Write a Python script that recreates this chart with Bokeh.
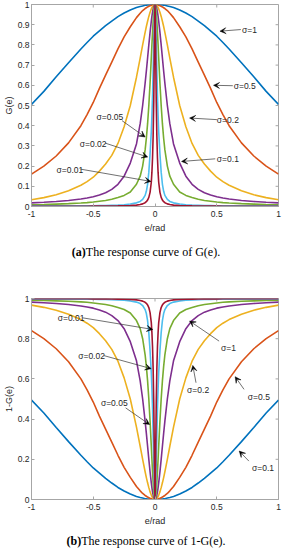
from bokeh.plotting import figure
from bokeh.models import Range1d, FixedTicker, NumeralTickFormatter, Label, Arrow, VeeHead, Div
from bokeh.layouts import column
from bokeh.embed import file_html
from bokeh.resources import INLINE

# ---- data (e >= 0 half; curves are symmetric) ----
E_HALF = [0, 0.003, 0.006, 0.01, 0.015, 0.02, 0.025, 0.03, 0.04, 0.05, 0.06, 0.07, 0.08,
          0.1, 0.12, 0.15, 0.2, 0.25, 0.3, 0.35, 0.4, 0.45, 0.5, 0.55, 0.6, 0.7, 0.8, 0.9, 1.0]

SIGMA_NAMES = ["\u03c3=1", "\u03c3=0.5", "\u03c3=0.2", "\u03c3=0.1", "\u03c3=0.05", "\u03c3=0.02", "\u03c3=0.01"]

G_S1 = [1.0, 1.0, 1.0, 1.0, 1.0, 1.0, 1.0, 0.999, 0.999, 0.998, 0.998, 0.997, 0.996, 0.993, 0.99,
        0.985, 0.973, 0.958, 0.94, 0.918, 0.895, 0.869, 0.843, 0.812, 0.78, 0.712, 0.642, 0.57, 0.505]
G_S05 = [1.0, 1.0, 1.0, 1.0, 0.999, 0.998, 0.997, 0.996, 0.994, 0.991, 0.988, 0.984, 0.98, 0.97, 0.957,
         0.935, 0.89, 0.84, 0.78, 0.715, 0.65, 0.585, 0.515, 0.455, 0.4, 0.315, 0.25, 0.2, 0.16]
G_S02 = [1.0, 1.0, 0.999, 0.998, 0.994, 0.99, 0.985, 0.978, 0.962, 0.941, 0.917, 0.891, 0.862, 0.8, 0.735,
         0.64, 0.5, 0.395, 0.312, 0.253, 0.21, 0.175, 0.145, 0.123, 0.105, 0.078, 0.058, 0.044, 0.033]
G_S01 = [1.0, 0.999, 0.996, 0.99, 0.978, 0.962, 0.941, 0.917, 0.862, 0.8, 0.735, 0.671, 0.61, 0.5, 0.41,
         0.31, 0.215, 0.15, 0.11, 0.085, 0.068, 0.057, 0.048, 0.042, 0.037, 0.03, 0.025, 0.021, 0.018]
G_S005 = [1.0, 0.996, 0.986, 0.962, 0.917, 0.862, 0.8, 0.735, 0.61, 0.5, 0.41, 0.338, 0.28, 0.2, 0.15,
          0.11, 0.072, 0.055, 0.045, 0.036, 0.03, 0.026, 0.022, 0.019, 0.017, 0.014, 0.012, 0.01, 0.009]
G_S002 = [1.0, 0.978, 0.917, 0.82, 0.68, 0.55, 0.45, 0.37, 0.26, 0.17, 0.11, 0.075, 0.055, 0.035, 0.025,
          0.018, 0.012, 0.009, 0.007, 0.006, 0.005, 0.0045, 0.004, 0.0037, 0.0035, 0.0033, 0.0031, 0.003, 0.003]
G_S001 = [1.0, 0.92, 0.74, 0.52, 0.35, 0.24, 0.17, 0.12, 0.07, 0.045, 0.032, 0.024, 0.019, 0.013, 0.01,
          0.007, 0.005, 0.004, 0.003, 0.0025, 0.002, 0.002, 0.0018, 0.0016, 0.0015, 0.0013, 0.0012, 0.0011, 0.001]

SERIES = [G_S1, G_S05, G_S02, G_S01, G_S005, G_S002, G_S001]
COLORS = ["#0072BD", "#D95319", "#EDB120", "#7E2F8E", "#77AC30", "#4DBEEE", "#A2142F"]

X_TICKS = [-1, -0.5, 0, 0.5, 1]
Y_TICKS_A = [0, 0.1, 0.2, 0.3, 0.4, 0.5, 0.6, 0.7, 0.8, 0.9, 1]
Y_TICKS_B = [0, 0.2, 0.4, 0.6, 0.8, 1]

CAPTION_A = ("(a)", "The response curve of G(e).")
CAPTION_B = ("(b)", "The response curve of 1-G(e).")

E_FULL = [-e for e in reversed(E_HALF[1:])] + E_HALF


def mirror(g):
    return list(reversed(g[1:])) + list(g)


FONT = "Liberation Sans"
TXT = "#262626"
BOX = "#A6A6A6"
W = 282
LEFT = 24
RIGHT = 4


def style_axis(ax, ticks, label, label_standoff, title_standoff):
    ax.ticker = FixedTicker(ticks=ticks)
    ax.formatter = NumeralTickFormatter(format="0.[0]")
    ax.axis_line_color = BOX
    ax.major_tick_line_color = BOX
    ax.major_tick_in = 3
    ax.major_tick_out = 0
    ax.minor_tick_line_color = None
    ax.major_label_text_font = FONT
    ax.major_label_text_color = TXT
    ax.major_label_text_font_size = "8.5px"
    ax.major_label_standoff = label_standoff
    ax.axis_label = label
    ax.axis_label_text_font = FONT
    ax.axis_label_text_font_style = "normal"
    ax.axis_label_text_font_size = "9px"
    ax.axis_label_text_color = TXT
    ax.axis_label_standoff = title_standoff


def make_fig(height, top, bottom, yticks, ylabel):
    frame_h = height - top - bottom
    frame_w = W - LEFT - RIGHT
    p = figure(width=W, height=height, x_range=Range1d(-1, 1), y_range=Range1d(0, 1),
               output_backend="svg", toolbar_location=None,
               min_border_left=LEFT, min_border_right=RIGHT,
               min_border_top=top, min_border_bottom=bottom)
    p.xgrid.visible = False
    p.ygrid.visible = False
    p.outline_line_color = BOX
    p.background_fill_color = "white"
    style_axis(p.xaxis[0], X_TICKS, "e/rad", 4, 3)
    style_axis(p.yaxis[0], yticks, ylabel, 2, 1)
    # inward tick marks on the top and right edges of the box
    dx = 3 * 2.0 / frame_w
    dy = 3 * 1.0 / frame_h
    p.segment(x0=X_TICKS, y0=[1] * len(X_TICKS), x1=X_TICKS, y1=[1 - dy] * len(X_TICKS),
              line_color=BOX, line_width=1)
    p.segment(x0=[1] * len(yticks), y0=yticks, x1=[1 - dx] * len(yticks), y1=yticks,
              line_color=BOX, line_width=1)
    return p


def add_label(p, x, y, text):
    p.add_layout(Label(x=x, y=y, text=text, text_font=FONT, text_font_size="8.5px",
                       text_align="left", text_baseline="middle", text_color=TXT))


def add_arrow(p, xs, ys, xe, ye):
    p.add_layout(Arrow(end=VeeHead(size=6, fill_color="black", line_color="black", line_width=0.5),
                       x_start=xs, y_start=ys, x_end=xe, y_end=ye,
                       line_color="#333333", line_width=0.7))


def caption(parts, height):
    return Div(text="<b>%s</b>%s" % parts, width=W, height=height,
               styles={"font-family": "Liberation Serif", "font-size": "12px", "color": "black",
                       "text-align": "center", "line-height": "%dpx" % height,
                       "white-space": "nowrap"})


# ---------------- (a) G(e) ----------------
pa = make_fig(236, 4, 30, Y_TICKS_A, "G(e)")
for g, c in zip(SERIES, COLORS):
    pa.line(E_FULL, mirror(g), line_color=c, line_width=1.6)

# (series index, label x, label y, arrow start x, y, arrow tip x, y)
ANN_A = [
    (0, 0.705, 0.873, 0.695, 0.876, 0.526, 0.868),
    (1, 0.637, 0.595, 0.630, 0.598, 0.474, 0.600),
    (2, 0.501, 0.430, 0.501, 0.430, 0.280, 0.438),
    (3, 0.501, 0.235, 0.488, 0.236, 0.215, 0.223),
    (4, -0.474, 0.443, -0.267, 0.425, -0.080, 0.344),
    (5, -0.609, 0.309, -0.404, 0.314, -0.059, 0.245),
    (6, -0.798, 0.182, -0.603, 0.185, -0.033, 0.124),
]
for i, lx, ly, xs, ys, xe, ye in ANN_A:
    add_arrow(pa, xs, ys, xe, ye)
    add_label(pa, lx, ly, SIGMA_NAMES[i])

# ---------------- (b) 1-G(e) ----------------
pb = make_fig(260, 30, 29, Y_TICKS_B, "1-G(e)")
for g, c in zip(SERIES, COLORS):
    pb.line(E_FULL, [1 - v for v in mirror(g)], line_color=c, line_width=1.6)

ANN_B = [
    (6, -0.788, 0.901, -0.588, 0.904, -0.018, 0.846),
    (5, -0.622, 0.714, -0.414, 0.716, -0.031, 0.651),
    (4, -0.438, 0.478, -0.238, 0.456, -0.044, 0.373),
    (0, 0.534, 0.755, 0.519, 0.788, 0.280, 0.888),
    (2, 0.260, 0.543, 0.332, 0.581, 0.306, 0.667),
    (1, 0.752, 0.511, 0.721, 0.548, 0.649, 0.611),
    (3, 0.785, 0.158, 0.760, 0.191, 0.682, 0.241),
]
for i, lx, ly, xs, ys, xe, ye in ANN_B:
    add_arrow(pb, xs, ys, xe, ye)
    add_label(pb, lx, ly, SIGMA_NAMES[i])

layout = column(pa, caption(CAPTION_A, 22), pb, caption(CAPTION_B, 16), spacing=0)
open("out.html", "w").write(file_html(layout, INLINE))
